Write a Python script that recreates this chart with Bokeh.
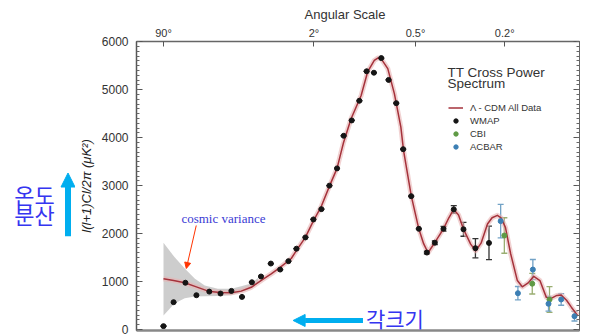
import numpy as np
from bokeh.plotting import figure
from bokeh.layouts import row
from bokeh.core.properties import value
from bokeh.models import (Range1d, LinearAxis, FixedTicker, SingleIntervalTicker,
                          Whisker, ColumnDataSource, Label, Arrow, NormalHead,
                          TeeHead, Legend, LegendItem, Title)
from bokeh.embed import file_html
from bokeh.resources import INLINE

# ---------------- data (multipole l, l(l+1)Cl/2pi in uK^2) ----------------
wmap_l = [2, 3, 4.6, 6.6, 9.7, 13.2, 17.4, 22.4, 28, 34, 41.5, 49.7, 58, 66.9,
          78.1, 89.2, 101.4, 114.9, 129, 142.3, 159.6, 177.5, 196.1, 216,
          237.5, 260.7, 286.4, 311.5, 342.5, 374.2, 409.6, 447.3, 491.3,
          547.4, 604.7, 681.4, 777]
wmap_val = [70, 570, 975, 715, 790, 750, 805, 680, 985, 1105, 1375, 1250, 1425,
            1685, 1920, 2295, 2510, 3000, 3360, 4040, 4360, 4770, 5385, 5355,
            5660, 5205, 4720, 3760, 2780, 2100, 1605, 1810, 2100, 2505, 2090,
            1695, 1805]
wmap_err = [0, 0, 0, 0, 0, 0, 0, 0, 0, 0, 0, 0, 0, 0, 0, 0, 0, 0, 0, 0, 0, 0,
            0, 0, 0, 0, 0, 0, 0, 0, 30, 40, 50, 80, 145, 200, 350]

cbi_l = [897, 1150, 1331]
cbi_val = [1960, 955, 625]
cbi_err = [370, 215, 270]

acbar_l = [867, 1014, 1156, 1320, 1465, 1630]
acbar_val = [2260, 757, 1250, 536, 626, 277]
acbar_err = [350, 140, 210, 155, 120, 100]

model_l = [2, 3, 4.5, 6.3, 9.4, 13, 17.4, 22, 27.6, 35, 41.8, 50, 61, 67, 78,
           89, 101, 115, 129, 137, 142, 158, 182, 199, 217, 227, 237, 258,
           280, 303, 313, 343, 374, 395, 415, 447, 491, 520, 547, 575, 605,
           650, 683, 720, 766, 800, 841, 870, 906, 950, 1009, 1054, 1110,
           1165, 1228, 1296, 1350, 1414, 1465, 1530, 1590, 1672]
model_val = [1057, 1020, 974, 900, 800, 770, 765, 800, 880, 1040, 1160, 1300,
             1480, 1650, 1920, 2260, 2560, 2990, 3360, 3700, 3900, 4390, 4880,
             5380, 5610, 5660, 5650, 5440, 4920, 4220, 3730, 2780, 2100, 1790,
             1600, 1810, 2100, 2330, 2505, 2390, 2090, 1780, 1640, 1800, 2200,
             2330, 2380, 2330, 2130, 1580, 1020, 890, 970, 1110, 1020, 670,
             650, 710, 720, 610, 465, 290]

cv_l = [2, 3.1, 4.5, 6.3, 8.5, 12.3, 17.4, 22, 27.6, 32]
cv_low = [290, 540, 650, 690, 695, 700, 715, 780, 860, 960]
cv_high = [1810, 1510, 1270, 1060, 920, 850, 850, 900, 960, 1080]

scale_l = [2, 90, 360, 900]
scale_labels = ["90°", "2°", "0.5°", "0.2°"]

y_tick_values = [0, 1000, 2000, 3000, 4000, 5000, 6000]


def u(l):
    """plot coordinate of multipole l (axis compressed as l**0.25)"""
    return np.asarray(l, dtype=float) ** 0.25


FONT = "Liberation Sans"
TXT = "#333333"
BLUE_K = "#3535f0"
CYAN = "#00aeef"

# ---------------- left strip: Korean annotation ----------------
side = figure(width=75, height=334, output_backend="svg", toolbar_location=None,
              x_range=Range1d(0, 75), y_range=Range1d(334, 0),
              x_axis_location=None, y_axis_location=None, title_location=None,
              min_border=0)
side.grid.visible = False
side.outline_line_color = None
side.text(x=[34, 34], y=[176, 199], text=["온도", "분산"], text_align="center",
          text_baseline="middle", text_font=value("Noto Sans CJK KR"),
          text_font_size="22px", text_color=BLUE_K)
side.add_layout(Arrow(x_start=67.5, y_start=225, x_end=67.5, y_end=152,
                      line_color=CYAN, line_width=6,
                      end=NormalHead(size=14, fill_color=CYAN, line_color=CYAN)))

# ---------------- main chart ----------------
p = figure(width=514, height=334, output_backend="svg", toolbar_location=None,
           x_range=Range1d(0.850, 6.417), y_range=Range1d(-21, 6006),
           x_axis_location="above", title_location=None,
           min_border_left=60, min_border_right=10,
           min_border_top=41, min_border_bottom=4)
p.grid.visible = False
p.outline_line_color = "#777777"

# top axis: angular scale
top = p.above[0]
top_ticks = [float(t) for t in u(scale_l)]
top.ticker = FixedTicker(ticks=top_ticks)
top.major_label_overrides = {t: s for t, s in zip(top_ticks, scale_labels)}
top.major_tick_in = 5
top.major_tick_out = 0
top.minor_tick_line_color = None
top.major_label_standoff = 3
top.major_label_text_font = FONT
top.major_label_text_font_size = "11px"
top.major_label_text_color = TXT
top.axis_line_color = "#666666"
top.axis_line_width = 1.5
top.major_tick_line_color = "#555555"
p.add_layout(Title(text="Angular Scale", align="left", offset=168, standoff=4,
                   text_font=FONT, text_font_size="13px",
                   text_font_style="normal", text_color=TXT), "above")

# left axis
left = p.left[0]
left.ticker = SingleIntervalTicker(interval=1000, num_minor_ticks=10)
left.major_tick_in = 6
left.major_tick_out = 0
left.minor_tick_in = 3
left.minor_tick_out = 0
left.major_label_standoff = 8
left.major_label_text_font = FONT
left.major_label_text_font_size = "12px"
left.major_label_text_color = TXT
left.axis_line_color = "#555555"
left.axis_line_width = 1.5
left.major_tick_line_color = "#555555"
left.minor_tick_line_color = "#666666"
left.axis_label = "l(l+1)Cl/2π (μK²)"
left.axis_label_text_font = FONT
left.axis_label_text_font_size = "13px"
left.axis_label_text_font_style = "italic"
left.axis_label_text_color = "#222222"
left.axis_label_standoff = 5

# right axis (ticks only)
right = LinearAxis(ticker=SingleIntervalTicker(interval=1000, num_minor_ticks=10),
                   major_label_overrides={v: "" for v in y_tick_values},
                   major_label_standoff=0,
                   major_tick_in=6, major_tick_out=0, minor_tick_in=3,
                   minor_tick_out=0, axis_line_color="#666666",
                   major_tick_line_color="#555555", minor_tick_line_color="#666666")
p.add_layout(right, "right")

# bottom axis line (its labels fall outside the picture)
bottom = LinearAxis(ticker=FixedTicker(ticks=[]), major_label_standoff=0,
                    major_tick_out=0, major_tick_in=0,
                    axis_line_color="#888888", axis_line_width=2.5)
p.add_layout(bottom, "below")

# cosmic variance band
p.varea(x=u(cv_l), y1=cv_low, y2=cv_high, fill_color="#c8c8c8", fill_alpha=0.9)

# model curve with pink uncertainty glow
p.line(u(model_l), model_val, line_width=5, line_color="#e8b4b4", line_alpha=0.6,
       line_join="round")
curve = p.line(u(model_l), model_val, line_width=1.5, line_color="#a5323b",
               line_join="round")


def points(ls, vals, errs, color, bar_color):
    src = ColumnDataSource(dict(x=u(ls), y=vals,
                                lo=[v - e for v, e in zip(vals, errs)],
                                hi=[v + e for v, e in zip(vals, errs)]))
    w = Whisker(source=src, base="x", lower="lo", upper="hi",
                line_color=bar_color, line_width=1.3,
                lower_head=TeeHead(size=6, line_color=bar_color, line_width=1.3),
                upper_head=TeeHead(size=6, line_color=bar_color, line_width=1.3))
    p.add_layout(w)
    return p.scatter("x", "y", source=src, size=5, fill_color=color,
                     line_color=color)


r_wmap = points(wmap_l, wmap_val, wmap_err, "#151515", "#333333")
r_cbi = points(cbi_l, cbi_val, cbi_err, "#5f9a45", "#9aae72")
r_acbar = points(acbar_l, acbar_val, acbar_err, "#3c7fb4", "#72a2c6")

legend = Legend(items=[LegendItem(label="Λ - CDM All Data", renderers=[curve]),
                       LegendItem(label="WMAP", renderers=[r_wmap]),
                       LegendItem(label="CBI", renderers=[r_cbi]),
                       LegendItem(label="ACBAR", renderers=[r_acbar])],
                location=(312, 178), border_line_color=None,
                background_fill_alpha=0, label_text_font=FONT,
                label_text_font_size="9.5px", label_text_color=TXT,
                glyph_width=15, glyph_height=11, label_height=11, spacing=2,
                padding=0, margin=0, label_standoff=7)
p.add_layout(legend)

# texts inside the frame
p.add_layout(Label(x=4.758, y=5366, text="TT Cross Power", text_align="left",
                   text_baseline="middle", text_font=FONT,
                   text_font_size="13.5px", text_color=TXT))
p.add_layout(Label(x=4.758, y=5124, text="Spectrum", text_align="left",
                   text_baseline="middle", text_font=FONT,
                   text_font_size="13.5px", text_color=TXT))
p.add_layout(Label(x=1.414, y=2315, text="cosmic variance", text_align="left",
                   text_baseline="middle", text_font="Liberation Serif",
                   text_font_size="13px", text_color="#3a3ad4"))
p.add_layout(Arrow(x_start=1.601, y_start=2169, x_end=1.476, y_end=1272,
                   line_color="#ff3300", line_width=1,
                   end=NormalHead(size=6, fill_color="#ff3300",
                                  line_color="#ff3300")))

p.add_layout(Arrow(x_start=3.696, y_start=188, x_end=2.818, y_end=188,
                   line_color=CYAN, line_width=5,
                   end=NormalHead(size=12, fill_color=CYAN, line_color=CYAN)))
p.add_layout(Label(x=3.733, y=250, text="각크기", text_align="left",
                   text_baseline="middle", text_font="Noto Sans CJK KR",
                   text_font_size="21px", text_color=BLUE_K))

layout = row(side, p, spacing=0)
open("out.html", "w").write(file_html(layout, INLINE))
